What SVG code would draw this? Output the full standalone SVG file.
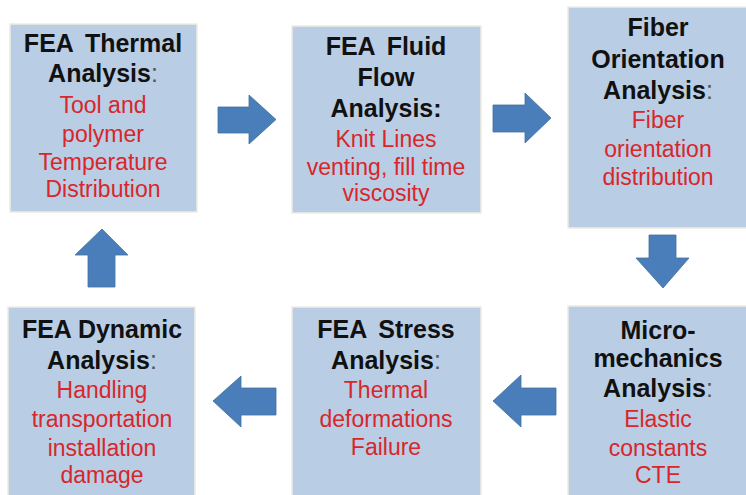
<svg xmlns="http://www.w3.org/2000/svg" width="746" height="495" viewBox="0 0 746 495">
<style>
.box{fill:#B9CDE5;stroke:#EEECE1;stroke-width:1.5}
.arrow{fill:#4A7EBB;stroke:#41719C;stroke-width:0.8}
text{font-family:"Liberation Sans",Arial,sans-serif;text-anchor:middle}
.t{font-size:25px;font-weight:bold;fill:#111111}
.w{word-spacing:5px}
.t .c{font-weight:normal;fill:#555555}
.r{font-size:23px;fill:#D8262A}
</style>
<rect width="746" height="495" fill="#FFFFFF"/>
<g id="thermal">
<rect class="box" x="10" y="24" width="187" height="188"/>
<text class="t w" x="103" y="52">FEA Thermal</text>
<text class="t" x="103" y="82">Analysis<tspan class="c">:</tspan></text>
<text class="r" x="103" y="113">Tool and</text>
<text class="r" x="103" y="142">polymer</text>
<text class="r" x="103" y="170">Temperature</text>
<text class="r" x="103" y="197">Distribution</text>
</g>
<g id="fluid">
<rect class="box" x="292" y="26" width="189" height="187"/>
<text class="t w" x="386" y="55">FEA Fluid</text>
<text class="t" x="386" y="86">Flow</text>
<text class="t" x="386" y="117">Analysis:</text>
<text class="r" x="386" y="147">Knit Lines</text>
<text class="r" x="386" y="175">venting, fill time</text>
<text class="r" x="386" y="201">viscosity</text>
</g>
<g id="fiber">
<rect class="box" x="568" y="7" width="180" height="221"/>
<text class="t" x="658" y="36">Fiber</text>
<text class="t" x="658" y="68">Orientation</text>
<text class="t" x="658" y="99">Analysis<tspan class="c">:</tspan></text>
<text class="r" x="658" y="128">Fiber</text>
<text class="r" x="658" y="157">orientation</text>
<text class="r" x="658" y="185">distribution</text>
</g>
<g id="micro">
<rect class="box" x="568" y="306" width="180" height="192"/>
<text class="t" x="658" y="339">Micro-</text>
<text class="t" x="658" y="367">mechanics</text>
<text class="t" x="658" y="397">Analysis<tspan class="c">:</tspan></text>
<text class="r" x="658" y="427">Elastic</text>
<text class="r" x="658" y="456">constants</text>
<text class="r" x="658" y="483">CTE</text>
</g>
<g id="stress">
<rect class="box" x="292" y="307" width="189" height="191"/>
<text class="t w" x="386" y="338">FEA Stress</text>
<text class="t" x="386" y="369">Analysis<tspan class="c">:</tspan></text>
<text class="r" x="386" y="398">Thermal</text>
<text class="r" x="386" y="427">deformations</text>
<text class="r" x="386" y="455">Failure</text>
</g>
<g id="dynamic">
<rect class="box" x="8" y="307" width="187" height="191"/>
<text class="t" x="102" y="338">FEA Dynamic</text>
<text class="t" x="102" y="369">Analysis<tspan class="c">:</tspan></text>
<text class="r" x="102" y="398">Handling</text>
<text class="r" x="102" y="427">transportation</text>
<text class="r" x="102" y="456">installation</text>
<text class="r" x="102" y="483">damage</text>
</g>
<g id="connectors">
<polygon class="arrow" points="218,107 249,107 249,95 276,119.5 249,144 249,133 218,133"/>
<polygon class="arrow" points="493,105 525,105 525,93 551,118 525,143 525,132 493,132"/>
<polygon class="arrow" points="649,235 676,235 676,258 689,258 663,288 636,258 649,258"/>
<polygon class="arrow" points="556,388 521,388 521,375 493,401 521,427 521,415 556,415"/>
<polygon class="arrow" points="276,388 241,388 241,376 213,401 241,427 241,415 276,415"/>
<polygon class="arrow" points="88,287 88,255 75,255 102,229 128,255 115,255 115,287"/>
</g>
</svg>
